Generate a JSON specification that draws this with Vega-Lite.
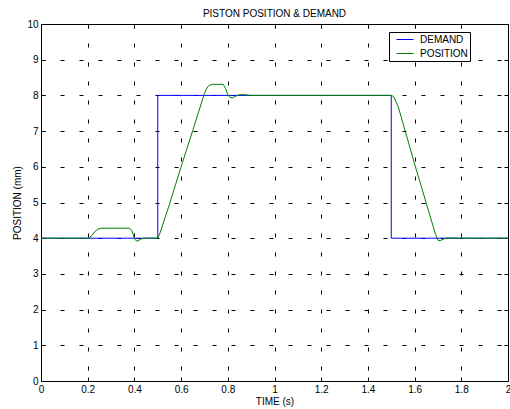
{
  "$schema": "https://vega.github.io/schema/vega-lite/v6.json",
  "width": 467,
  "height": 357,
  "autosize": {"type": "none"},
  "padding": {"left": 41, "top": 24, "right": 2, "bottom": 28},
  "background": "white",
  "title": {"text": "PISTON POSITION & DEMAND", "fontSize": 10, "fontWeight": "normal", "font": "Liberation Sans", "color": "black", "offset": 0},
  "config": {
    "font": "Liberation Sans",
    "view": {"stroke": "black", "strokeWidth": 1},
    "axis": {
      "labelFont": "Liberation Sans", "labelFontSize": 10, "labelColor": "black",
      "titleFont": "Liberation Sans", "titleFontSize": 10, "titleFontWeight": "normal", "titleColor": "black",
      "domainColor": "black", "tickColor": "black", "gridColor": "black", "gridOpacity": 1, "gridDash": [4, 15]
    }
  },
  "data": {"values": [
    {"s": "DEMAND", "k": 0, "t": 0, "v": 4},
    {"s": "DEMAND", "k": 1, "t": 0.5, "v": 4},
    {"s": "DEMAND", "k": 2, "t": 0.5, "v": 8},
    {"s": "DEMAND", "k": 3, "t": 1.5, "v": 8},
    {"s": "DEMAND", "k": 4, "t": 1.5, "v": 4},
    {"s": "DEMAND", "k": 5, "t": 2, "v": 4},
    {"s": "POSITION", "k": 0, "t": 0, "v": 4},
    {"s": "POSITION", "k": 1, "t": 0.2, "v": 4},
    {"s": "POSITION", "k": 2, "t": 0.215, "v": 4.05},
    {"s": "POSITION", "k": 3, "t": 0.23, "v": 4.18},
    {"s": "POSITION", "k": 4, "t": 0.245, "v": 4.26},
    {"s": "POSITION", "k": 5, "t": 0.26, "v": 4.28},
    {"s": "POSITION", "k": 6, "t": 0.38, "v": 4.28},
    {"s": "POSITION", "k": 7, "t": 0.39, "v": 4.2},
    {"s": "POSITION", "k": 8, "t": 0.4, "v": 4.0},
    {"s": "POSITION", "k": 9, "t": 0.407, "v": 3.93},
    {"s": "POSITION", "k": 10, "t": 0.415, "v": 3.92},
    {"s": "POSITION", "k": 11, "t": 0.425, "v": 3.97},
    {"s": "POSITION", "k": 12, "t": 0.44, "v": 4.0},
    {"s": "POSITION", "k": 13, "t": 0.5, "v": 4.0},
    {"s": "POSITION", "k": 14, "t": 0.51, "v": 4.15},
    {"s": "POSITION", "k": 15, "t": 0.55, "v": 4.95},
    {"s": "POSITION", "k": 16, "t": 0.6, "v": 6.0},
    {"s": "POSITION", "k": 17, "t": 0.65, "v": 7.02},
    {"s": "POSITION", "k": 18, "t": 0.69, "v": 7.85},
    {"s": "POSITION", "k": 19, "t": 0.7, "v": 8.05},
    {"s": "POSITION", "k": 20, "t": 0.71, "v": 8.2},
    {"s": "POSITION", "k": 21, "t": 0.72, "v": 8.28},
    {"s": "POSITION", "k": 22, "t": 0.735, "v": 8.31},
    {"s": "POSITION", "k": 23, "t": 0.78, "v": 8.31},
    {"s": "POSITION", "k": 24, "t": 0.79, "v": 8.2},
    {"s": "POSITION", "k": 25, "t": 0.8, "v": 8.02},
    {"s": "POSITION", "k": 26, "t": 0.81, "v": 7.94},
    {"s": "POSITION", "k": 27, "t": 0.82, "v": 7.93},
    {"s": "POSITION", "k": 28, "t": 0.835, "v": 7.98},
    {"s": "POSITION", "k": 29, "t": 0.85, "v": 8.02},
    {"s": "POSITION", "k": 30, "t": 0.87, "v": 8.02},
    {"s": "POSITION", "k": 31, "t": 0.9, "v": 8.0},
    {"s": "POSITION", "k": 32, "t": 1.5, "v": 8.0},
    {"s": "POSITION", "k": 33, "t": 1.51, "v": 7.97},
    {"s": "POSITION", "k": 34, "t": 1.53, "v": 7.68},
    {"s": "POSITION", "k": 35, "t": 1.6, "v": 6.08},
    {"s": "POSITION", "k": 36, "t": 1.65, "v": 4.98},
    {"s": "POSITION", "k": 37, "t": 1.68, "v": 4.32},
    {"s": "POSITION", "k": 38, "t": 1.69, "v": 4.1},
    {"s": "POSITION", "k": 39, "t": 1.7, "v": 3.94},
    {"s": "POSITION", "k": 40, "t": 1.71, "v": 3.93},
    {"s": "POSITION", "k": 41, "t": 1.725, "v": 3.98},
    {"s": "POSITION", "k": 42, "t": 1.74, "v": 4.01},
    {"s": "POSITION", "k": 43, "t": 1.8, "v": 4.0},
    {"s": "POSITION", "k": 44, "t": 2, "v": 4.0}
  ]},
  "layer": [
    {
      "mark": {"type": "line", "strokeWidth": 1, "clip": true},
      "encoding": {
        "x": {"field": "t", "type": "quantitative", "scale": {"domain": [0, 2], "nice": false, "zero": false},
          "axis": {"orient": "bottom", "title": "TIME (s)", "values": [0, 0.2, 0.4, 0.6, 0.8, 1, 1.2, 1.4, 1.6, 1.8, 2], "format": ".1~f", "grid": true, "tickSize": -4, "labelPadding": 7, "titlePadding": 2, "labelFlush": false, "labelOverlap": false}},
        "y": {"field": "v", "type": "quantitative", "scale": {"domain": [0, 10], "nice": false, "zero": false},
          "axis": {"orient": "left", "title": "POSITION (mm)", "values": [0, 1, 2, 3, 4, 5, 6, 7, 8, 9, 10], "grid": true, "tickSize": -4, "labelPadding": 7, "titlePadding": 4, "labelFlush": false, "labelOverlap": false}},
        "order": {"field": "k", "type": "quantitative"},
        "color": {"field": "s", "type": "nominal",
          "scale": {"domain": ["DEMAND", "POSITION"], "range": ["#0000ff", "#008000"]},
          "legend": {"orient": "none", "legendX": 348, "legendY": 8, "title": null, "symbolType": "M0,0H3.4", "symbolSize": 100, "symbolStrokeWidth": 1, "symbolFillColor": "transparent",
            "labelFontSize": 10, "labelFont": "Liberation Sans", "labelColor": "black", "labelOffset": 18,
            "strokeColor": "black", "fillColor": "white", "padding": 2, "rowPadding": 3, "cornerRadius": 0}}
      }
    },
    {
      "mark": {"type": "line", "opacity": 0},
      "encoding": {
        "x": {"field": "t", "type": "quantitative",
          "axis": {"orient": "top", "title": null, "labels": false, "grid": false, "values": [0, 0.2, 0.4, 0.6, 0.8, 1, 1.2, 1.4, 1.6, 1.8, 2], "tickSize": -4}},
        "y": {"field": "v", "type": "quantitative",
          "axis": {"orient": "right", "title": null, "labels": false, "grid": false, "values": [0, 1, 2, 3, 4, 5, 6, 7, 8, 9, 10], "tickSize": -4}},
        "detail": {"field": "s"}
      }
    }
  ]
}
